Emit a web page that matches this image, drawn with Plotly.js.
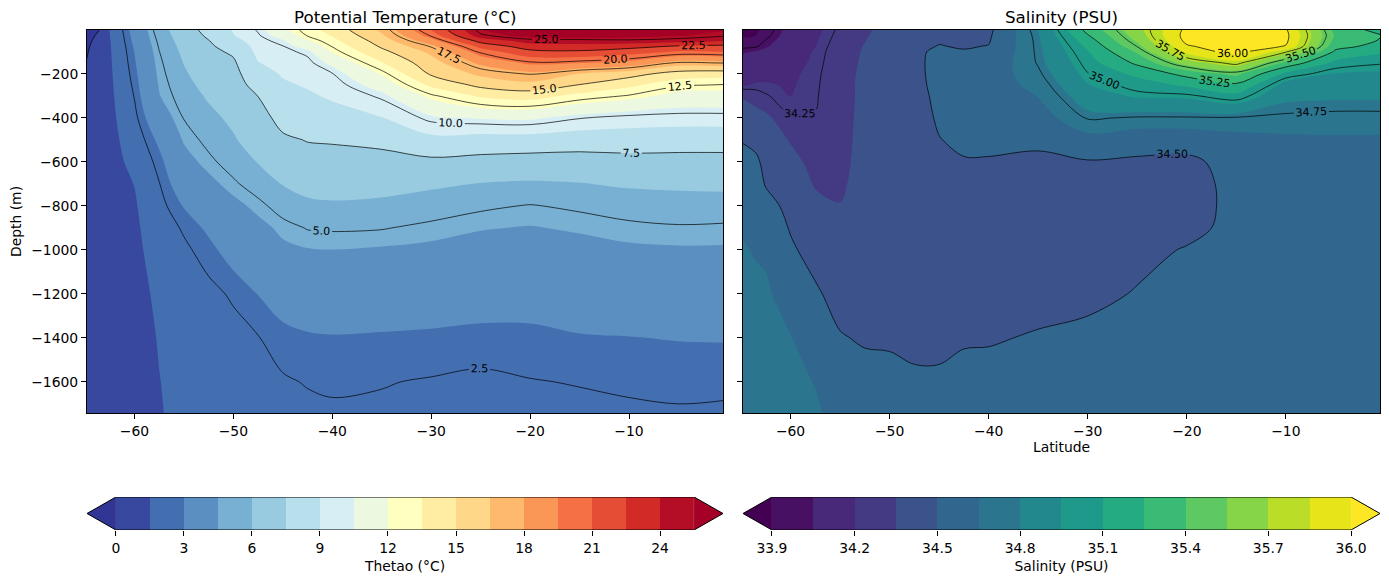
<!DOCTYPE html>
<html>
<head>
<meta charset="utf-8">
<script src="https://cdn.plot.ly/plotly-3.0.1.min.js"></script>
<style>
  html, body { margin: 0; padding: 0; background: #ffffff; }
  #chart { width: 1389px; height: 582px; }
</style>
</head>
<body>
<div id="chart"></div>
<script>
// ---- Section grid -------------------------------------------------------
const latitude = [-64.8, -63.5, -62.5, -60, -57.5, -55, -52.5, -50, -47.5, -45,
                  -42.5, -40, -35, -30, -25, -20, -15, -10, -5, -0.5];
const depth = [-0.5, -25, -50, -75, -100, -150, -200, -250, -300, -400,
               -500, -600, -700, -800, -900, -1000, -1200, -1400, -1600, -1741];

// Potential temperature (°C): one profile per latitude, top to bottom
const thetaoProfiles = [
  [-0.45,-0.35,-0.25,-0.15,-0.07,0.05,0.15,0.25,0.3,0.4,0.45,0.5,0.5,0.5,0.5,0.5,0.45,0.4,0.35,0.3],
  [0.02,0.2,0.4,0.55,0.65,0.75,0.8,0.85,0.9,0.95,0.95,0.95,0.95,0.9,0.9,0.9,0.85,0.8,0.75,0.7],
  [1.52,1.48,1.45,1.42,1.4,1.37,1.34,1.31,1.28,1.22,1.18,1.15,1.12,1.1,1.08,1.05,1.0,0.95,0.9,0.85],
  [3.4,3.3,3.2,3.1,3.02,2.9,2.78,2.66,2.54,2.3,2.0,1.75,1.52,1.4,1.33,1.28,1.2,1.15,1.1,1.05],
  [5.5,5.35,5.2,5.08,4.98,4.82,4.7,4.58,4.45,3.85,3.2,2.75,2.47,2.25,2.05,1.9,1.67,1.55,1.48,1.45],
  [6.8,6.65,6.52,6.38,6.25,6.04,5.85,5.65,5.45,5.04,4.6,4.1,3.6,3.05,2.6,2.35,2.05,1.9,1.78,1.72],
  [8.0,7.75,7.45,7.3,7.15,6.9,6.65,6.4,6.15,5.7,5.25,4.8,4.2,3.6,3.15,2.8,2.3,2.1,2.02,1.93],
  [9.1,8.95,8.52,8.05,7.7,7.3,7.05,6.85,6.65,6.25,5.88,5.4,4.85,4.2,3.8,3.35,2.6,2.25,2.1,2.02],
  [10.1,9.9,9.65,9.45,9.3,8.95,8.52,8.05,7.52,7.02,6.6,6.05,5.45,4.75,4.2,3.8,3.02,2.47,2.25,2.15],
  [11.7,11.05,10.35,9.95,9.75,9.4,9.1,8.85,8.55,7.9,7.3,6.7,6.05,5.4,4.7,4.3,3.35,2.8,2.42,2.25],
  [12.9,12.6,11.8,11.05,10.2,9.75,9.45,9.1,8.85,8.2,7.55,7.05,6.4,5.75,5.05,4.45,3.6,2.9,2.54,2.35],
  [14.05,13.6,13.1,12.55,12.05,10.8,9.95,9.55,9.15,8.52,7.6,7.1,6.45,5.85,5.1,4.49,3.6,2.95,2.6,2.4],
  [16.8,16.3,15.7,15.2,14.6,13.4,12.1,11.1,10.2,8.95,7.8,7.1,6.4,5.75,5.05,4.4,3.52,2.92,2.53,2.4],
  [21.05,20.2,18.9,17.6,16.8,15.9,15.2,13.8,12.3,10.3,8.6,7.2,6.2,5.45,4.8,4.3,3.45,2.88,2.45,2.3],
  [25.45,24.8,23.05,21.4,20.2,18.3,16.8,15.4,13.7,10.6,8.4,7.05,5.95,5.15,4.55,4.15,3.4,2.8,2.37,2.25],
  [26.5,26.05,24.55,23.3,22.05,19.8,17.6,16.05,14.1,10.7,8.4,6.9,5.85,4.95,4.45,4.05,3.35,2.83,2.47,2.3],
  [26.6,26.2,24.6,23.55,22.2,19.55,16.45,14.95,13.05,10.05,8.2,6.9,5.95,5.15,4.6,4.2,3.45,2.95,2.53,2.35],
  [26.3,25.9,24.8,23.05,21.6,19.05,15.6,13.8,12.4,9.7,8.2,7.05,6.15,5.4,4.8,4.35,3.55,2.98,2.6,2.4],
  [26.05,25.6,24.55,22.3,20.8,17.3,14.3,12.65,11.55,9.6,8.1,7.05,6.2,5.55,4.9,4.4,3.6,3.03,2.62,2.45],
  [25.6,25.2,24.05,22.05,20.95,17.55,14.05,12.45,11.55,9.6,8.1,7.05,6.25,5.55,4.85,4.4,3.6,3.04,2.65,2.4]
];

// Salinity (PSU): one profile per latitude, top to bottom
const salinityProfiles = [
  [33.85,33.88,33.93,33.98,34.04,34.1,34.15,34.19,34.34,34.42,34.49,34.55,34.59,34.62,34.64,34.66,34.69,34.71,34.72,34.73],
  [33.88,33.9,33.94,33.99,34.06,34.11,34.16,34.21,34.3,34.4,34.47,34.52,34.56,34.59,34.62,34.64,34.68,34.7,34.71,34.72],
  [33.95,33.97,34.01,34.04,34.08,34.13,34.17,34.21,34.26,34.38,34.43,34.47,34.49,34.55,34.59,34.63,34.67,34.69,34.7,34.71],
  [34.1,34.11,34.12,34.13,34.14,34.16,34.18,34.19,34.199,34.26,34.34,34.39,34.43,34.46,34.49,34.52,34.59,34.655,34.685,34.7],
  [34.17,34.18,34.19,34.199,34.21,34.22,34.23,34.235,34.24,34.255,34.28,34.31,34.34,34.38,34.42,34.45,34.52,34.59,34.645,34.67],
  [34.27,34.28,34.29,34.3,34.305,34.31,34.315,34.32,34.32,34.325,34.33,34.335,34.34,34.352,34.38,34.41,34.45,34.51,34.56,34.6],
  [34.33,34.34,34.348,34.355,34.36,34.365,34.37,34.37,34.37,34.37,34.37,34.37,34.375,34.38,34.39,34.4,34.43,34.485,34.55,34.58],
  [34.4,34.4,34.4,34.4,34.4,34.4,34.4,34.4,34.4,34.4,34.4,34.4,34.4,34.41,34.41,34.42,34.44,34.48,34.545,34.57],
  [34.44,34.45,34.46,34.47,34.48,34.47,34.46,34.45,34.44,34.43,34.42,34.42,34.42,34.42,34.42,34.43,34.45,34.47,34.52,34.55],
  [34.46,34.48,34.49,34.505,34.52,34.54,34.55,34.55,34.54,34.52,34.495,34.47,34.45,34.44,34.43,34.43,34.44,34.47,34.52,34.55],
  [34.46,34.47,34.48,34.49,34.51,34.54,34.56,34.57,34.57,34.55,34.53,34.49,34.46,34.45,34.44,34.44,34.45,34.49,34.53,34.55],
  [34.47,34.48,34.49,34.505,34.52,34.55,34.57,34.58,34.57,34.56,34.53,34.49,34.46,34.45,34.44,34.44,34.46,34.49,34.54,34.56],
  [34.805,34.79,34.78,34.775,34.77,34.76,34.73,34.69,34.655,34.58,34.52,34.48,34.46,34.45,34.45,34.45,34.46,34.51,34.55,34.57],
  [35.3,35.24,35.18,35.13,35.09,35.04,34.995,34.945,34.88,34.76,34.6,34.49,34.46,34.45,34.45,34.46,34.48,34.52,34.56,34.58],
  [35.65,35.62,35.57,35.505,35.42,35.28,35.13,35.04,34.97,34.74,34.56,34.48,34.46,34.46,34.47,34.48,34.505,34.54,34.57,34.58],
  [36.04,36.06,36.04,35.98,35.9,35.62,35.3,35.12,34.98,34.74,34.56,34.47,34.46,34.47,34.48,34.505,34.55,34.57,34.58,34.59],
  [36.15,36.17,36.15,36.1,36.06,35.8,35.44,35.22,35.06,34.74,34.6,34.55,34.53,34.52,34.52,34.53,34.56,34.58,34.59,34.6],
  [36.02,36.04,36.03,35.99,35.76,35.36,35.06,34.9,34.83,34.73,34.62,34.57,34.55,34.54,34.54,34.55,34.57,34.59,34.6,34.61],
  [35.35,35.38,35.35,35.3,35.22,35.06,34.94,34.88,34.82,34.72,34.63,34.58,34.56,34.55,34.55,34.56,34.58,34.6,34.61,34.62],
  [35.2,35.26,35.24,35.2,35.12,35.01,34.93,34.87,34.82,34.72,34.63,34.58,34.56,34.55,34.55,34.56,34.58,34.6,34.61,34.62]
];

// ---- Levels, colours and tick labels ----------------------------------
const tempLevels = [0, 1.5, 3, 4.5, 6, 7.5, 9, 10.5, 12, 13.5, 15, 16.5, 18, 19.5, 21, 22.5, 24, 25.5];
const tempLineLevels = [0, 2.5, 5, 7.5, 10, 12.5, 15, 17.5, 20, 22.5, 25];
const tempColors = ['#37489e','#436eb0','#5b8fc2','#77b0d2','#98cae0','#b8dfec','#d7eef5','#edf8e0',
                    '#ffffbf','#feeda3','#fed788','#fdba6c','#fa9756','#f57145','#e54d34','#d12a27','#b40e26'];
const tempUnder = '#313695';
const tempOver = '#a50026';
const tempTicks = [0, 3, 6, 9, 12, 15, 18, 21, 24];

const salLevels = [33.9, 34.05, 34.2, 34.35, 34.5, 34.65, 34.8, 34.95, 35.1, 35.25, 35.4, 35.55, 35.7, 35.85, 36.0];
const salLineLevels = [34.0, 34.25, 34.5, 34.75, 35.0, 35.25, 35.5, 35.75, 36.0];
const salColors = ['#471063','#482878','#443a83','#3b528b','#31668e','#2b758e','#23888e',
                   '#1f998a','#25ab82','#39ba75','#5ec962','#86d549','#bade28','#e7e419'];
const salUnder = '#440154';
const salOver = '#fde725';
const salTicks = [33.9, 34.2, 34.5, 34.8, 35.1, 35.4, 35.7, 36.0];

const latTicks = [-60, -50, -40, -30, -20, -10];
const depthTicks = [-1600, -1400, -1200, -1000, -800, -600, -400, -200];

// ---- Helpers -------------------------------------------------------------
const minus = v => String(v).replace('-', '\u2212');
const toGrid = profiles => depth.map((_, i) => profiles.map(p => p[i]));

// Plotly fills the band below the first level with colour(start - size/2)
// and band k with colour(start + (k + 0.5) * size) on a scale running from
// start - size to the last level: each band owns one slot of width 1/nLevels.
function contourScale(colors, under, over) {
  const n = colors.length + 1;
  const scale = [[0, under], [1 / n, under]];
  colors.forEach((c, i) => {
    scale.push([(i + 1) / n, c]);
    scale.push([i + 2 === n ? 0.9999 : (i + 2) / n, c]);
  });
  scale.push([0.9999, over]);
  scale.push([1, over]);
  return scale;
}
// Flat step scale for the colourbar strip (one slot per band)
function stripScale(colors) {
  const n = colors.length;
  const scale = [];
  colors.forEach((c, i) => { scale.push([i / n, c]); scale.push([(i + 1) / n, c]); });
  return scale;
}

const FONT = 'DejaVu Sans, Liberation Sans, sans-serif';
const W = 1389, H = 582;
const fx = p => p / W;
const fy = p => 1 - p / H;

const thetao = toGrid(thetaoProfiles);
const salinity = toGrid(salinityProfiles);

function sectionTraces(z, levels, lineLevels, colors, under, over, fmt, xa, ya) {
  const step = levels[1] - levels[0];
  const lstep = lineLevels[1] - lineLevels[0];
  return [
    {
      type: 'contour', x: latitude, y: depth, z: z, xaxis: xa, yaxis: ya,
      autocontour: false,
      contours: { start: levels[0], end: levels[levels.length - 1], size: step,
                  coloring: 'fill', showlines: false },
      colorscale: contourScale(colors, under, over),
      line: { width: 0, smoothing: 1 },
      showscale: false, hoverinfo: 'skip'
    },
    {
      type: 'contour', x: latitude, y: depth, z: z, xaxis: xa, yaxis: ya,
      autocontour: false,
      contours: { start: lineLevels[0], end: lineLevels[lineLevels.length - 1], size: lstep,
                  coloring: 'none', showlines: true, showlabels: true,
                  labelformat: fmt, labelfont: { family: FONT, size: 11, color: '#000000' } },
      line: { color: '#000000', width: 0.7, smoothing: 1 },
      showscale: false, hoverinfo: 'skip'
    }
  ];
}

// Horizontal colourbar with triangular extensions at both ends
function colorbarTraces(levels, colors, under, over, xa, ya) {
  const lo = levels[0], hi = levels[levels.length - 1];
  const ext = 0.05 * (hi - lo);
  const mids = levels.slice(0, -1).map((v, i) => (v + levels[i + 1]) / 2);
  return [
    {
      type: 'heatmap', x: levels, y: [0, 1], z: [mids], xaxis: xa, yaxis: ya,
      zmin: lo, zmax: hi, colorscale: stripScale(colors), showscale: false,
      zsmooth: false, hoverinfo: 'skip'
    },
    {
      type: 'scatter', mode: 'lines', xaxis: xa, yaxis: ya, fill: 'toself',
      x: [lo - ext, lo, lo, lo - ext], y: [0.5, 0, 1, 0.5],
      fillcolor: under, line: { width: 0 }, hoverinfo: 'skip', cliponaxis: false
    },
    {
      type: 'scatter', mode: 'lines', xaxis: xa, yaxis: ya, fill: 'toself',
      x: [hi + ext, hi, hi, hi + ext], y: [0.5, 0, 1, 0.5],
      fillcolor: over, line: { width: 0 }, hoverinfo: 'skip', cliponaxis: false
    },
    {
      type: 'scatter', mode: 'lines', xaxis: xa, yaxis: ya,
      x: [lo - ext, lo, hi, hi + ext, hi, lo, lo - ext],
      y: [0.5, 1, 1, 0.5, 0, 0, 0.5],
      line: { color: '#000000', width: 1 }, hoverinfo: 'skip', cliponaxis: false
    }
  ];
}

const data = [
  ...sectionTraces(thetao, tempLevels, tempLineLevels, tempColors, tempUnder, tempOver, '.1f', 'x', 'y'),
  ...sectionTraces(salinity, salLevels, salLineLevels, salColors, salUnder, salOver, '.2f', 'x2', 'y2'),
  ...colorbarTraces(tempLevels, tempColors, tempUnder, tempOver, 'x3', 'y3'),
  ...colorbarTraces(salLevels, salColors, salUnder, salOver, 'x4', 'y4')
];

const frame = {
  showline: true, mirror: true, linecolor: '#000000', linewidth: 1,
  ticks: 'outside', ticklen: 5, tickwidth: 1, tickcolor: '#000000',
  showgrid: false, zeroline: false,
  tickfont: { family: FONT, size: 13.9, color: '#000000' }
};
const latRange = [latitude[0], latitude[latitude.length - 1]];
const depthRange = [depth[depth.length - 1], depth[0]];
const plotY = [fy(413), fy(30)];
const barY = [fy(530), fy(497)];

const barAxis = (levels, ticks, fmt, title) => {
  const ext = 0.05 * (levels[levels.length - 1] - levels[0]);
  return {
    range: [levels[0] - ext, levels[levels.length - 1] + ext],
    tickvals: ticks, ticktext: ticks.map(v => v.toFixed(fmt)),
    ticks: 'outside', ticklen: 5, tickwidth: 1, tickcolor: '#000000',
    showline: false, showgrid: false, zeroline: false,
    tickfont: { family: FONT, size: 13.9, color: '#000000' },
    title: { text: title, font: { family: FONT, size: 13.9, color: '#000000' }, standoff: 6 }
  };
};

const layout = {
  width: W, height: H,
  margin: { l: 0, r: 0, t: 0, b: 0 },
  paper_bgcolor: '#ffffff', plot_bgcolor: '#ffffff',
  showlegend: false, hovermode: false,
  font: { family: FONT, size: 13.9, color: '#000000' },
  xaxis: Object.assign({}, frame, {
    domain: [fx(87), fx(723)], range: latRange, anchor: 'y',
    tickvals: latTicks, ticktext: latTicks.map(minus)
  }),
  yaxis: Object.assign({}, frame, {
    domain: plotY, range: depthRange, anchor: 'x',
    tickvals: depthTicks, ticktext: depthTicks.map(minus),
    title: { text: 'Depth (m)', font: { family: FONT, size: 13.9, color: '#000000' }, standoff: 6 }
  }),
  xaxis2: Object.assign({}, frame, {
    domain: [fx(743), fx(1380)], range: latRange, anchor: 'y2',
    tickvals: latTicks, ticktext: latTicks.map(minus),
    title: { text: 'Latitude', font: { family: FONT, size: 13.9, color: '#000000' }, standoff: 4 }
  }),
  yaxis2: Object.assign({}, frame, {
    domain: plotY, range: depthRange, anchor: 'x2',
    tickvals: depthTicks, showticklabels: false
  }),
  xaxis3: Object.assign(barAxis(tempLevels, tempTicks, 0, 'Thetao (°C)'), {
    domain: [fx(87), fx(723)], anchor: 'y3'
  }),
  yaxis3: { domain: barY, range: [0, 1], anchor: 'x3', visible: false, fixedrange: true },
  xaxis4: Object.assign(barAxis(salLevels, salTicks, 1, 'Salinity (PSU)'), {
    domain: [fx(743), fx(1380)], anchor: 'y4'
  }),
  yaxis4: { domain: barY, range: [0, 1], anchor: 'x4', visible: false, fixedrange: true },
  annotations: [
    { text: 'Potential Temperature (°C)', xref: 'paper', yref: 'paper',
      x: fx(405), y: fy(17), xanchor: 'center', yanchor: 'middle', showarrow: false,
      font: { family: FONT, size: 16.7, color: '#000000' } },
    { text: 'Salinity (PSU)', xref: 'paper', yref: 'paper',
      x: fx(1061.5), y: fy(17), xanchor: 'center', yanchor: 'middle', showarrow: false,
      font: { family: FONT, size: 16.7, color: '#000000' } }
  ]
};

Plotly.newPlot('chart', data, layout, { staticPlot: true, displayModeBar: false });
</script>
</body>
</html>
